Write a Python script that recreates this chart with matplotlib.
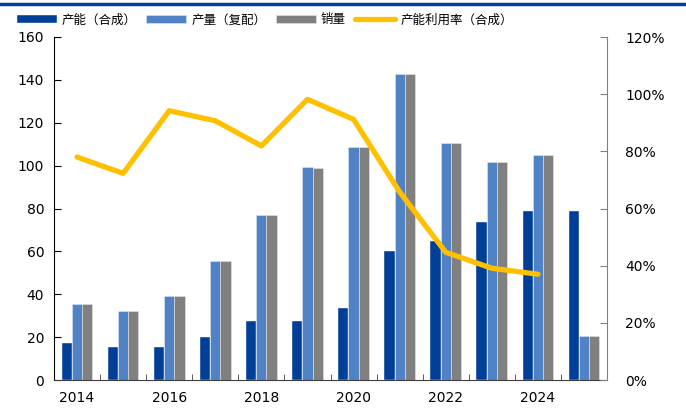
#!/usr/bin/env python3
"""
Capacity / output / sales bars with utilisation line
"""
import numpy as np
import matplotlib
matplotlib.use("Agg")
import matplotlib.pyplot as plt
from matplotlib.lines import Line2D

plt.rcParams['font.family'] = ['DejaVu Sans', 'Noto Sans CJK SC']

years = [2014, 2015, 2016, 2017, 2018, 2019, 2020, 2021, 2022, 2023, 2024, 2025]
capacity = [17.1, 15.2, 15.2, 20.1, 27.4, 27.4, 33.7, 60.3, 64.8, 73.7, 78.7, 78.7]
output = [35.4, 32.2, 39.0, 55.5, 77.0, 99.3, 108.5, 142.6, 110.4, 101.8, 104.9, 20.4]
sales = [35.4, 32.2, 39.0, 55.5, 77.0, 98.9, 108.5, 142.6, 110.4, 101.8, 104.9, 20.4]
utilisation = [78.0, 72.3, 94.2, 90.7, 81.9, 98.2, 91.2, 65.8, 44.7, 39.1, 37.0]

labels = ["产能（合成）", "产量（复配）", "销量", "产能利用率（合成）"]
x_labels = ["2014", "", "2016", "", "2018", "", "2020", "", "2022", "", "2024", ""]

C_DARK = "#003f97"
C_LIGHT = "#5083c5"
C_GRAY = "#808080"
C_YELLOW = "#ffc000"


def main():
    fig = plt.figure(figsize=(6.86, 4.12), dpi=100)
    ax = fig.add_axes([54 / 686, 1 - 380 / 412, (607 - 54) / 686, (380 - 37) / 412])
    ax2 = ax.twinx()

    x = np.arange(len(years))
    w = 0.222
    ax.bar(x - w, capacity, w, color=C_DARK, edgecolor="white", linewidth=0.3, label=labels[0])
    ax.bar(x, output, w, color=C_LIGHT, edgecolor="#dde6f3", linewidth=0.4, label=labels[1])
    ax.bar(x + w, sales, w, color=C_GRAY, edgecolor="#e6e6e6", linewidth=0.4, label=labels[2])
    line, = ax2.plot(x[:len(utilisation)], utilisation, color=C_YELLOW, lw=3.8,
                     solid_capstyle="round", solid_joinstyle="round", label=labels[3])

    ax.set_xlim(-0.5, len(years) - 0.5)
    ax.set_ylim(0, 160)
    ax.set_yticks(range(0, 161, 20))
    ax2.set_ylim(0, 120)
    ax2.set_yticks(range(0, 121, 20))
    ax2.set_yticklabels([f"{v}%" for v in range(0, 121, 20)])

    ax.set_xticks(x)
    ax.set_xticklabels(x_labels)
    ax.set_xticks(x[:-1] + 0.5, minor=True)
    ax.tick_params(axis="x", which="major", length=0, pad=8, labelsize=10)
    ax.tick_params(axis="x", which="minor", direction="in", length=4, color="#404040")
    ax.tick_params(axis="y", direction="in", length=5, labelsize=10, pad=7)
    ax2.tick_params(axis="y", direction="in", length=5, labelsize=10, pad=13, color=C_GRAY)

    for a in (ax, ax2):
        a.spines["top"].set_visible(False)
    ax.spines["right"].set_visible(False)
    ax2.spines["left"].set_visible(False)
    ax2.spines["bottom"].set_visible(False)
    ax2.spines["right"].set_color(C_GRAY)
    ax.spines["bottom"].set_color("#404040")
    ax.spines["left"].set_color("black")

    # legend across the top, in the Chinese font
    handles, _ = ax.get_legend_handles_labels()
    fig.legend(handles + [line], labels, loc="center left", bbox_to_anchor=(17 / 686, 1 - 20 / 412),
               ncol=4, frameon=False, prop={"family": ["Noto Sans CJK SC"], "size": 9},
               handlelength=3.2, handleheight=0.65, handletextpad=0.4,
               columnspacing=0.75, borderaxespad=0, borderpad=0)

    fig.add_artist(Line2D([0, 1], [1 - 4 / 412, 1 - 4 / 412], color=C_DARK, lw=2.5,
                          transform=fig.transFigure))

    fig.savefig("out.png", dpi=100)


if __name__ == "__main__":
    main()
